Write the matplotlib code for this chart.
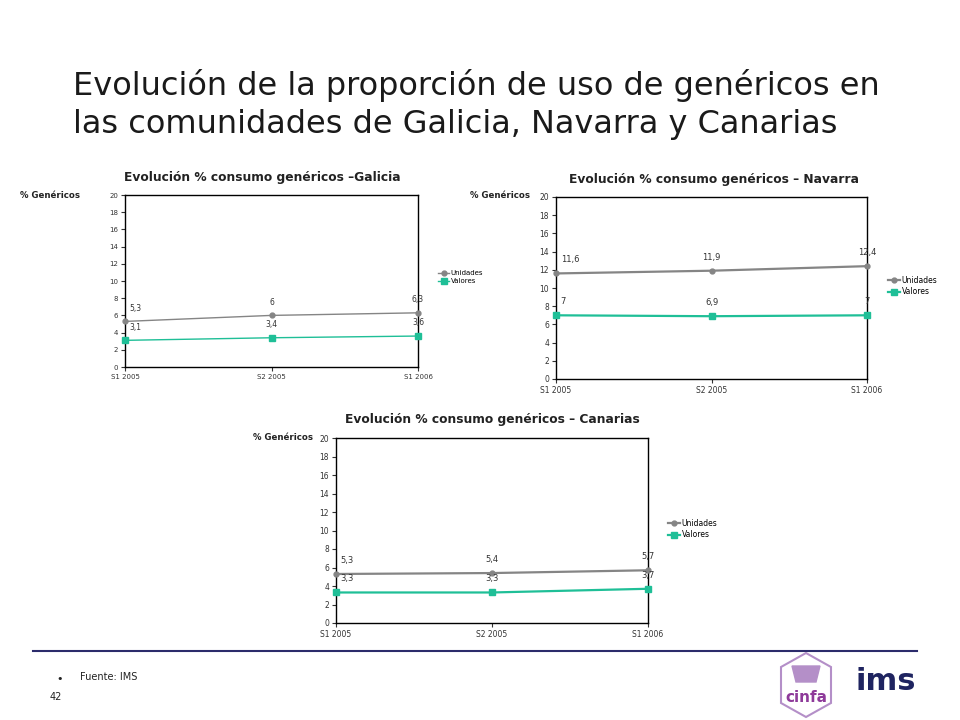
import numpy as np
import matplotlib.pyplot as plt
from matplotlib.patches import Polygon

# Data
periodos = ['S1 2005', 'S2 2005', 'S1 2006']
galicia_unidades = [5.3, 6.0, 6.3]
galicia_valores = [3.1, 3.4, 3.6]
navarra_unidades = [11.6, 11.9, 12.4]
navarra_valores = [7.0, 6.9, 7.0]
canarias_unidades = [5.3, 5.4, 5.7]
canarias_valores = [3.3, 3.3, 3.7]

gris = '#858585'
verde = '#1fbf97'
W, H = 960, 720

fig = plt.figure(figsize=(9.6, 7.2), dpi=100)
fig.patch.set_facecolor('white')


def fx(px):
    return px / W


def fy(py):
    return 1 - py / H


def fmt(v):
    s = ('%.1f' % v).replace('.', ',')
    if s.endswith(',0'):
        s = s[:-2]
    return s


def panel(box, titulo, title_xy, ylab_xy, leg_xy, unidades, valores, fs, lw):
    l, t, r, b = box
    ax = fig.add_axes([fx(l), fy(b), fx(r - l), (b - t) / H])
    x = np.arange(len(periodos))
    ax.plot(x, unidades, color=gris, marker='o', ms=3.5, lw=lw, label='Unidades', clip_on=False, zorder=3)
    ax.plot(x, valores, color=verde, marker='s', ms=4, lw=lw, label='Valores', clip_on=False, zorder=3)
    for i in x:
        for serie in (unidades, valores):
            ax.text(i + (0.03 if i == 0 else 0), serie[i] + 1.0, fmt(serie[i]),
                    ha='left' if i == 0 else 'center', va='bottom', fontsize=fs + 0.5,
                    color='#333333')
    ax.set_xlim(0, 2)
    ax.set_ylim(0, 20)
    ax.set_yticks(range(0, 21, 2))
    ax.set_xticks(x)
    ax.set_xticklabels(periodos)
    ax.tick_params(labelsize=fs, colors='#333333', length=3, width=0.8, pad=2)
    for s in ax.spines.values():
        s.set_color('black')
        s.set_linewidth(1.0)
    fig.text(fx(title_xy[0]), fy(title_xy[1]), titulo, ha='center', va='center',
             fontsize=8.8, fontweight='bold', color='#222222')
    fig.text(fx(ylab_xy[0]), fy(ylab_xy[1]), '% Genéricos', ha='left', va='center',
             fontsize=6.2, fontweight='bold', color='#222222')
    fig.legend(handles=ax.get_lines(), loc='upper left',
               bbox_to_anchor=(fx(leg_xy[0]), fy(leg_xy[1])), frameon=False,
               fontsize=fs, handlelength=1.6, handletextpad=0.2, labelspacing=0.3,
               borderaxespad=0, borderpad=0)
    return ax


panel((125, 195, 418, 367), 'Evolución % consumo genéricos \u2013Galicia', (262, 177), (20, 195),
      (438, 270), galicia_unidades, galicia_valores, 5, 1.0)
panel((556, 197, 867, 379), 'Evolución % consumo genéricos \u2013 Navarra', (714, 180), (470, 196),
      (888, 276), navarra_unidades, navarra_valores, 5.5, 1.6)
panel((336, 438, 648, 623), 'Evolución % consumo genéricos \u2013 Canarias', (492, 420), (253, 438),
      (668, 519), canarias_unidades, canarias_valores, 5.5, 1.6)

# Title
fig.text(fx(73), fy(86), 'Evolución de la proporción de uso de genéricos en', ha='left', va='center',
         fontsize=23, color='#1a1a1a')
fig.text(fx(73), fy(124), 'las comunidades de Galicia, Navarra y Canarias', ha='left', va='center',
         fontsize=23, color='#1a1a1a')

# Footer
fig.add_artist(plt.Line2D([fx(33), fx(917)], [fy(651), fy(651)], color='#2b2b6b', lw=1.5))
fig.text(fx(60), fy(679), '\u2022', ha='center', va='center', fontsize=8, color='#222222')
fig.text(fx(80), fy(677), 'Fuente: IMS', ha='left', va='center', fontsize=7, color='#222222')
fig.text(fx(50), fy(697), '42', ha='left', va='center', fontsize=7, color='#222222')

# cinfa logo (hexagon)
cx = 806
hexa = [(cx, 653), (cx + 25, 667), (cx + 25, 703), (cx, 717), (cx - 25, 703), (cx - 25, 667)]
fig.add_artist(Polygon([(fx(a), fy(b)) for a, b in hexa], closed=True, fill=False,
                       edgecolor='#b48fc8', lw=1.5, transform=fig.transFigure))
bowl = [(792, 666), (820, 666), (816, 682), (796, 682)]
fig.add_artist(Polygon([(fx(a), fy(b)) for a, b in bowl], closed=True, color='#b48fc8',
                       transform=fig.transFigure))
fig.text(fx(cx), fy(697), 'cinfa', ha='center', va='center', fontsize=11, fontweight='bold',
         color='#8e3a9a')
fig.text(fx(886), fy(682), 'ims', ha='center', va='center', fontsize=22, fontweight='bold',
         color='#1f2460')

fig.savefig('out.png', dpi=100)
